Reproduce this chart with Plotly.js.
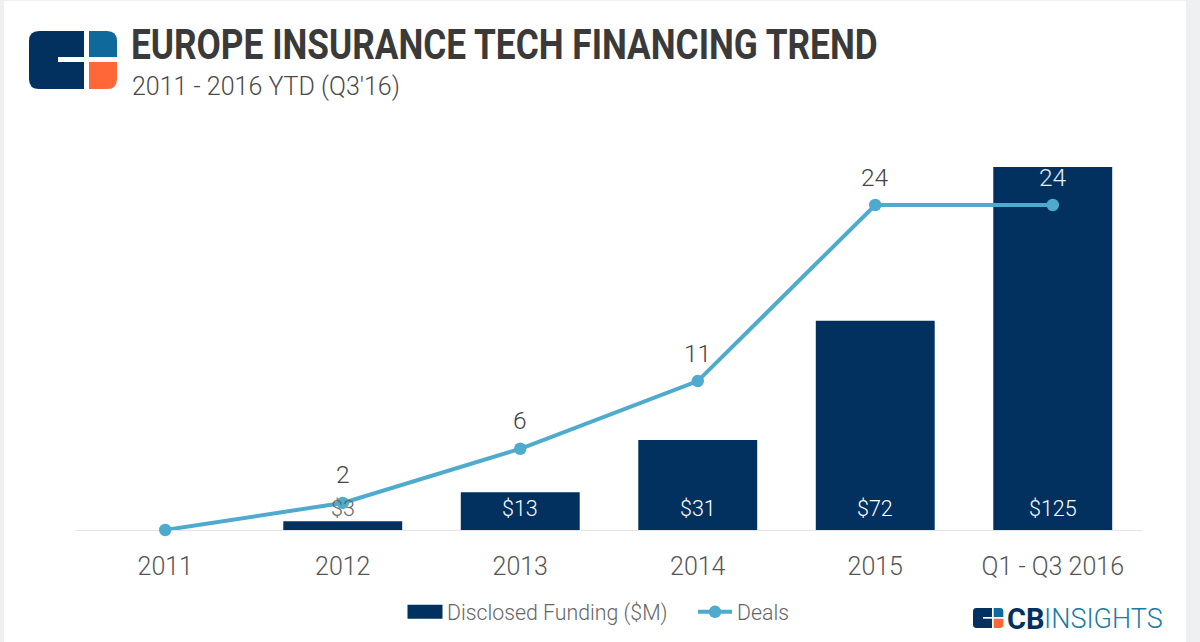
<!DOCTYPE html>
<html><head><meta charset="utf-8">
<script src="https://cdn.plot.ly/plotly-3.0.1.min.js"></script>
<style>html,body{margin:0;padding:0;background:#fff}#c{width:1200px;height:642px}</style>
</head><body><div id="c"></div>
<script>
var categories = ["2011","2012","2013","2014","2015","Q1 - Q3 2016"];
var funding = [null,3,13,31,72,125];
var deals = [0,2,6,11,24,24];
var fundingLabels = ["","$3","$13","$31","$72","$125"];
var dealLabels = ["","2","6","11","24","24"];
var W=1200,H=642;
function px(x){return x/W;} function py(y){return 1-y/H;}
var NAVY="#02315f", LINE="#4fabcd", TEXT="#555555";

var traces=[
 {type:"bar",name:"Disclosed Funding ($M)",x:categories,y:funding,marker:{color:NAVY},width:0.67,yaxis:"y",hoverinfo:"none"},
 {type:"scatter",mode:"lines+markers",name:"Deals",x:categories,y:deals,yaxis:"y2",line:{color:LINE,width:4},marker:{color:LINE,size:12.5},cliponaxis:false,hoverinfo:"none"}
];
var ann=[];
categories.forEach(function(c,i){
  if(fundingLabels[i]) ann.push({xref:"x",yref:"y",x:i,y:0,yshift:22,text:fundingLabels[i],showarrow:false,
    font:{family:"Roboto",weight:300,size:21.5,color:i==1?"#666666":"#ffffff"}});
  if(dealLabels[i]) ann.push({xref:"x",yref:"y2",x:i,y:deals[i],yshift:28,text:dealLabels[i],showarrow:false,
    font:{family:"Roboto",weight:300,size:24.5,color:i==5?"#e8edf2":"#444444"}});
});
function txt(x,y,t,f,an){return {xref:"paper",yref:"paper",x:px(x),y:py(y),text:t,showarrow:false,xanchor:an||"left",yanchor:"middle",xshift:0,font:f};}
ann.push(txt(1005,618.5,"CB",{family:"Roboto",weight:700,size:29,color:NAVY}));
ann.push(txt(1042,618.5,"INSIGHTS",{family:"Roboto",weight:300,size:27,color:"#1a7ba6"}));

function P(x,y){return px(x)+","+py(y);}
function rounded(xa,ya,xb,yb,tl,tr,br,bl){
  var s="M"+P(xa+tl,ya)+" L"+P(xb-tr,ya);
  if(tr) s+=" Q"+P(xb,ya)+" "+P(xb,ya+tr);
  s+=" L"+P(xb,yb-br);
  if(br) s+=" Q"+P(xb,yb)+" "+P(xb-br,yb);
  s+=" L"+P(xa+bl,yb);
  if(bl) s+=" Q"+P(xa,yb)+" "+P(xa,yb-bl);
  s+=" L"+P(xa,ya+tl);
  if(tl) s+=" Q"+P(xa,ya)+" "+P(xa+tl,ya);
  return s+" Z";
}
function pshape(d,col){return {type:"path",xref:"paper",yref:"paper",path:d,fillcolor:col,line:{width:0},layer:"above"};}
function band(x0,y0,x1,y1){return {type:"rect",xref:"paper",yref:"paper",x0:px(x0),x1:px(x1),y0:py(y0),y1:py(y1),fillcolor:"#eff0f2",line:{width:0},layer:"below"};}
function white(x0,y0,x1,y1){return {type:"rect",xref:"paper",yref:"paper",x0:px(x0),x1:px(x1),y0:py(y0),y1:py(y1),fillcolor:"#ffffff",line:{width:0},layer:"above"};}
function logo(x,y,s){
  return [
   pshape(rounded(x,y,x+55*s,y+58*s,10*s,0,0,10*s),NAVY),
   white(x+29*s,y+26*s,x+55*s,y+31*s),
   pshape(rounded(x+60*s,y,x+88*s,y+26*s,0,10*s,0,0),"#0f6a9b"),
   pshape(rounded(x+60*s,y+31*s,x+88*s,y+58*s,0,0,10*s,0),"#ff6638")
  ];
}
var shapes=[band(0,0,4,642),band(1186,0,1200,642),band(0,0,1200,1)]
  .concat(logo(29,31,1)).concat(logo(973,608,0.345));

var layout={
 width:W,height:H,margin:{l:0,r:0,t:0,b:0},paper_bgcolor:"#ffffff",plot_bgcolor:"rgba(0,0,0,0)",
 showlegend:true,
 title:{text:"<b>EUROPE INSURANCE TECH FINANCING TREND</b>",x:px(131),xanchor:"left",xref:"paper",y:py(44),yanchor:"middle",
   font:{family:"Roboto",size:42,color:"#3a3a3a"}},
 xaxis:{domain:[px(76.5),px(1141.5)],type:"category",categoryorder:"array",categoryarray:categories,range:[-0.5,5.5],
   showgrid:false,zeroline:false,showline:false,ticks:"",tickfont:{family:"Roboto",weight:300,size:25,color:TEXT},ticklabelstandoff:19,anchor:"y"},
 yaxis:{domain:[py(530),py(130)],range:[0,137.7],visible:false,fixedrange:true},
 yaxis2:{domain:[py(530),py(130)],range:[0,29.54],visible:false,overlaying:"y",side:"right",fixedrange:true},
 shapes:shapes.concat([{type:"line",xref:"paper",yref:"paper",x0:px(76),x1:px(1142),y0:py(530.5),y1:py(530.5),line:{color:"#e3e5e8",width:1},layer:"below"}]),
 annotations:ann.concat([txt(130,87,"2011 - 2016 YTD (Q3'16)",{family:"Roboto",weight:300,size:25,color:"#4a4a4a"})]),
 legend:{orientation:"h",x:px(403),xanchor:"left",y:py(612),yanchor:"middle",font:{family:"Roboto",weight:300,size:21.3,color:"#666666"},itemwidth:34,entrywidth:241,entrywidthmode:"pixels",tracegroupgap:0,bgcolor:"rgba(0,0,0,0)"}
};
Plotly.newPlot("c",traces,layout,{staticPlot:true,displayModeBar:false}).then(function(){
  // The reference headline is set in a condensed cut: narrow the real text to its width.
  var t=document.querySelector(".gtitle");
  if(t){var b=t.getBBox(),sx=747/b.width;t.setAttribute("transform","matrix("+sx+",0,0,1,"+(b.x*(1-sx))+",0)");}
  // Legend swatch of the bar series is a wide block in the reference.
  var s=document.querySelector(".legend .legendbar path, .legend .legendpoints path");
  if(s){s.setAttribute("d","M17.5,7H-17.5V-7H17.5Z");}
});
</script></body></html>
